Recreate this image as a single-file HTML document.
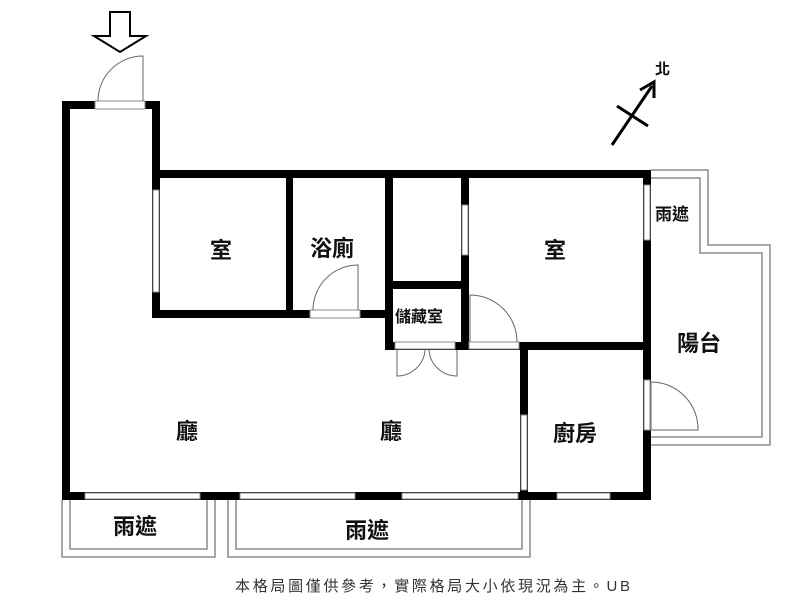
<!DOCTYPE html>
<html><head><meta charset="utf-8"><style>
html,body{margin:0;padding:0;background:#fff;width:800px;height:599px;overflow:hidden}
text{font-family:"Liberation Sans","Noto Sans CJK TC",sans-serif;font-weight:bold;fill:#111}
</style></head><body>
<svg width="800" height="599" viewBox="0 0 800 599" xmlns="http://www.w3.org/2000/svg">
<g fill="none" stroke="#777" stroke-width="1.3">
<path d="M651 170 H708 V245 H770 V445 H651"/>
<path d="M651 178 H700 V253 H762 V437 H651"/>
<path d="M62 500 V557 H215 V500"/>
<path d="M70 500 V549 H207 V500"/>
<path d="M228 500 V557 H530 V500"/>
<path d="M236 500 V549 H522 V500"/>
</g>
<g fill="#000">
<rect x="62" y="101" width="8" height="399"/>
<rect x="62" y="101" width="98" height="8"/>
<rect x="152" y="101" width="8" height="217"/>
<rect x="152" y="170" width="499" height="8"/>
<rect x="152" y="310" width="241" height="8"/>
<rect x="286" y="170" width="7" height="148"/>
<rect x="385" y="170" width="8" height="180"/>
<rect x="385" y="281" width="84" height="8"/>
<rect x="461" y="170" width="8" height="180"/>
<rect x="385" y="342" width="84" height="8"/>
<rect x="461" y="342" width="190" height="8"/>
<rect x="643" y="170" width="8" height="330"/>
<rect x="520" y="342" width="8" height="158"/>
<rect x="62" y="492" width="589" height="8"/>
</g>
<g fill="#fff" stroke="#888" stroke-width="1">
<rect x="95" y="101" width="50" height="8"/>
<rect x="153" y="190" width="6" height="102"/>
<rect x="310" y="310" width="50" height="8"/>
<rect x="462" y="205" width="6" height="50"/>
<rect x="395" y="342" width="60" height="7"/>
<rect x="469" y="342" width="50" height="7"/>
<rect x="644" y="185" width="6" height="55"/>
<rect x="644" y="380" width="6" height="50"/>
<rect x="521" y="415" width="6" height="75"/>
<rect x="85" y="493" width="115" height="6"/>
<rect x="240" y="493" width="115" height="6"/>
<rect x="402" y="493" width="116" height="6"/>
<rect x="557" y="493" width="53" height="6"/>
</g>
<g fill="none" stroke="#666" stroke-width="1">
<path d="M143 101 V56 A45 45 0 0 0 98 101"/>
<path d="M358 310 V265 A45 45 0 0 0 313 310"/>
<path d="M470 342 V295 A47 47 0 0 1 517 342"/>
<path d="M651 382 V430 H698 A47 47 0 0 0 651 382"/>
<path d="M397 350 V376 A28 28 0 0 0 425 350"/>
<path d="M457 350 V376 A28 28 0 0 1 429 350"/>
</g>
<path d="M110 12 H130 V36 H146 L120 52 L94 36 H110 Z" fill="#fff" stroke="#000" stroke-width="2"/>
<g stroke="#000" stroke-width="3" fill="none">
<line x1="612" y1="145" x2="652" y2="86"/>
<line x1="617" y1="106" x2="648" y2="126"/>
<path d="M640 90 L654 82 L654 98"/>
</g>
<text x="655" y="74" font-size="15">北</text>
<g font-size="22">
<text x="210" y="258">室</text>
<text x="310" y="256">浴廁</text>
<text x="544" y="258">室</text>
<text x="677" y="351">陽台</text>
<text x="553" y="441">廚房</text>
<text x="176" y="439">廳</text>
<text x="380" y="439">廳</text>
<text x="113" y="534">雨遮</text>
<text x="345" y="538">雨遮</text>
</g>
<text x="655" y="220" font-size="17">雨遮</text>
<text x="395" y="322" font-size="16">儲藏室</text>
<text x="235" y="591" font-size="15" style="font-weight:normal;fill:#333" textLength="395" lengthAdjust="spacing">本格局圖僅供參考，實際格局大小依現況為主。UB</text>
</svg>
</body></html>
